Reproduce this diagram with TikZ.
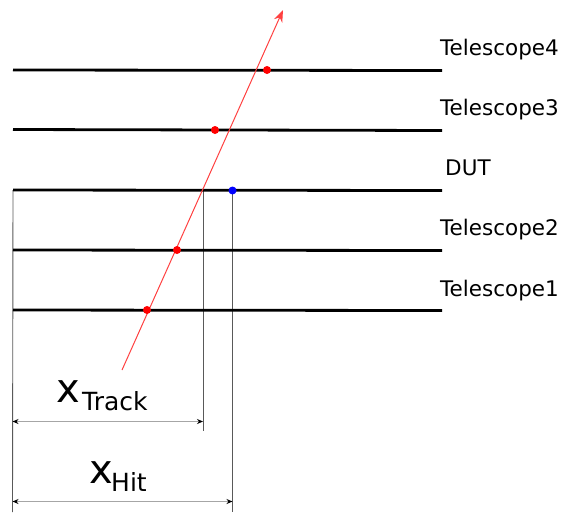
\documentclass[tikz,border=0pt]{standalone}
\usepackage{fontspec}
\setmainfont{DejaVu Sans}
\usetikzlibrary{arrows.meta}
\begin{document}
\begin{tikzpicture}[x=1pt,y=-1pt,
  layer/.style={line width=2.8pt,black},
  guide/.style={line width=0.9pt,black!65},
  dim/.style={line width=1.2pt,black!35,{Stealth[length=6pt,width=5pt,black]}-{Stealth[length=6pt,width=5pt,black]}},
  track/.style={line width=1pt,red!75,-{Stealth[length=12pt,width=9pt,red!75]}},
  hit/.style={circle,fill=red,inner sep=0pt,minimum size=8pt},
  dut/.style={circle,fill=blue,inner sep=0pt,minimum size=8pt},
  lbl/.style={anchor=base west,inner sep=0pt,font=\fontsize{21.5}{22}\selectfont}]
\useasboundingbox (0,0) rectangle (561,512);
% layer ends
\coordinate (t4a) at (13,70);  \coordinate (t4b) at (442,70.5);
\coordinate (t3a) at (13,129.5); \coordinate (t3b) at (442,130.5);
\coordinate (da) at (13,190);  \coordinate (db) at (442,190.5);
\coordinate (t2a) at (13,250); \coordinate (t2b) at (442,250.5);
\coordinate (t1a) at (13,310); \coordinate (t1b) at (442,310.5);
% guide lines
\coordinate (g0b) at (12.5,512);
\coordinate (g1a) at (203,190); \coordinate (g1b) at (203,431);
\coordinate (g2a) at (232.5,190); \coordinate (g2b) at (232.5,512);
\draw[guide] (da) -- (g0b);
\draw[guide] (g1a) -- (g1b);
\draw[guide] (g2a) -- (g2b);
% layers
\draw[layer] (t4a) -- (t4b);
\draw[layer] (t3a) -- (t3b);
\draw[layer] (da) -- (db);
\draw[layer] (t2a) -- (t2b);
\draw[layer] (t1a) -- (t1b);
% track
\coordinate (ts) at (122,370); \coordinate (te) at (283,10);
\draw[track] (ts) -- (te);
% hits
\node[hit] (h1) at (147,310) {};
\node[hit] (h2) at (177,250) {};
\node[dut] (hd) at (232.5,190.5) {};
\node[hit] (h3) at (215,130) {};
\node[hit] (h4) at (267,70) {};
% labels
\node[lbl] (l4) at (440,55) {Telescope4};
\node[lbl] (l3) at (440,115) {Telescope3};
\node[lbl] (ld) at (445,175) {DUT};
\node[lbl] (l2) at (440,235) {Telescope2};
\node[lbl] (l1) at (440,296) {Telescope1};
% dimensions
\coordinate (d1a) at (12.5,421.5); \coordinate (d1b) at (203,421.5);
\coordinate (d2a) at (12.5,501.5); \coordinate (d2b) at (232.5,501.5);
\draw[dim] (d1a) -- (d1b);
\draw[dim] (d2a) -- (d2b);
\node[anchor=base west,inner sep=0pt] (xt) at (56,402) {\fontsize{40}{40}\selectfont x};
\node[anchor=base west,inner sep=0pt] (xts) at (82,410) {\fontsize{25}{25}\selectfont Track};
\node[anchor=base west,inner sep=0pt] (xh) at (89,483) {\fontsize{40}{40}\selectfont x};
\node[anchor=base west,inner sep=0pt] (xhs) at (111,491) {\fontsize{25}{25}\selectfont Hit};
\end{tikzpicture}
\end{document}
